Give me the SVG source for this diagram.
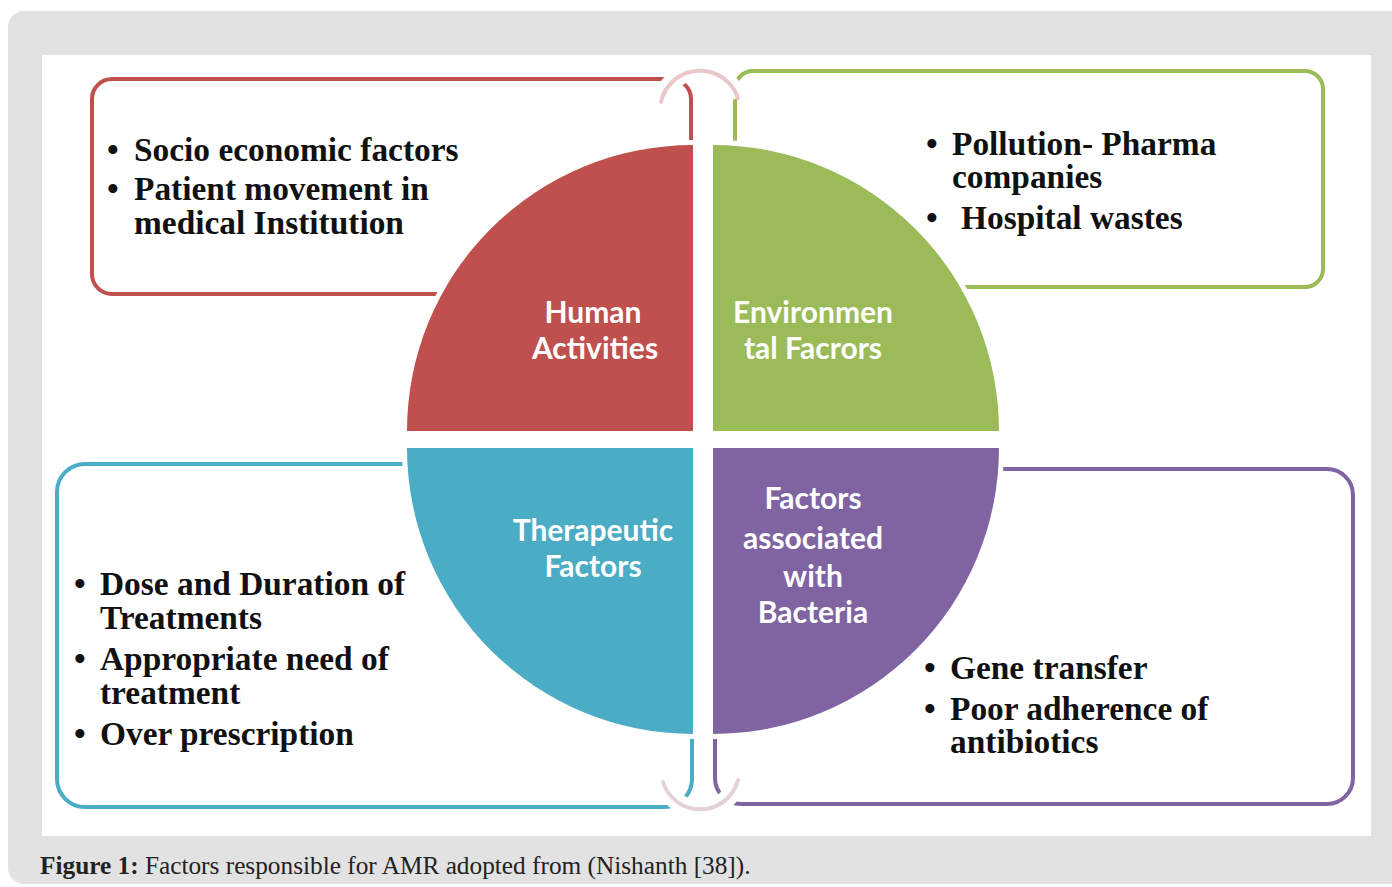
<svg xmlns="http://www.w3.org/2000/svg" width="1392" height="887" viewBox="0 0 1392 887">
  <style>
    .box { fill: none; stroke-width: 4; }
    .quad { stroke: #ffffff; stroke-width: 10; paint-order: stroke; }
    .halo { fill: none; stroke: #ffffff; stroke-width: 18; stroke-linecap: butt; }
    .link { fill: none; stroke-width: 4; stroke-linecap: round; }
    .item { font-family: "Liberation Serif", "Times New Roman", serif; font-weight: bold; font-size: 33.4px; fill: #111111; }
    .label { font-family: Lato, "Open Sans", sans-serif; font-weight: bold; font-size: 30px; fill: #ffffff; text-anchor: middle; }
    .caption { font-family: "Liberation Serif", "Times New Roman", serif; font-size: 25.3px; fill: #222222; }
  </style>

  <!-- page frame -->
  <rect x="8" y="11" width="1400" height="873" rx="16" fill="#e2e2e2"/>
  <rect x="42" y="55" width="1329" height="781" fill="#ffffff"/>

  <!-- text boxes around the circle -->
  <g id="box-human">
    <rect class="box" x="92" y="79" width="599" height="215" rx="20" stroke="#c0504d"/>
  </g>
  <g id="box-environment">
    <rect class="box" x="735" y="71" width="588" height="216" rx="18" stroke="#9bbb59"/>
  </g>
  <g id="box-therapeutic">
    <rect class="box" x="57" y="464" width="635" height="343" rx="28" stroke="#4bacc6"/>
  </g>
  <g id="box-bacteria">
    <rect class="box" x="715" y="469" width="638" height="335" rx="26" stroke="#8064a2"/>
  </g>

  <!-- connecting arcs between the upper and lower box pairs -->
  <g id="connectors">
    <path class="halo" d="M661,102 A40,40 0 0 1 738,98"/>
    <path class="halo" d="M663,782 A39,39 0 0 0 738,780"/>
    <path class="link" stroke="#e9c6c9" d="M661,102 A40,40 0 0 1 738,98"/>
    <path class="link" stroke="#e5d2d5" d="M663,782 A39,39 0 0 0 738,780"/>
  </g>

  <!-- circle quadrants -->
  <g id="quad-human">
    <path class="quad" fill="#c0504d" d="M693,431 L407,431 A286,286 0 0 1 693,145 Z"/>
    <text class="label" x="593" y="323">Human</text>
    <text class="label" x="595" y="359">Activities</text>
  </g>
  <g id="quad-environment">
    <path class="quad" fill="#9bbb59" d="M713,431 L713,145 A286,286 0 0 1 999,431 Z"/>
    <text class="label" x="813" y="323">Environmen</text>
    <text class="label" x="813" y="359">tal Facrors</text>
  </g>
  <g id="quad-therapeutic">
    <path class="quad" fill="#4bacc6" d="M693,448 L693,734 A286,286 0 0 1 407,448 Z"/>
    <text class="label" x="593" y="541">Therapeutic</text>
    <text class="label" x="593" y="577">Factors</text>
  </g>
  <g id="quad-bacteria">
    <path class="quad" fill="#8064a2" d="M713,448 L999,448 A286,286 0 0 1 713,734 Z"/>
    <text class="label" x="813" y="509">Factors</text>
    <text class="label" x="813" y="549">associated</text>
    <text class="label" x="813" y="587">with</text>
    <text class="label" x="813" y="623">Bacteria</text>
  </g>

  <!-- bullet lists -->
  <g id="list-human">
    <text class="item" x="107" y="161">•</text>
    <text class="item" x="134" y="161">Socio economic factors</text>
    <text class="item" x="107" y="200">•</text>
    <text class="item" x="134" y="200">Patient movement in</text>
    <text class="item" x="134" y="234">medical Institution</text>
  </g>
  <g id="list-environment">
    <text class="item" x="926" y="155">•</text>
    <text class="item" x="952" y="155">Pollution- Pharma</text>
    <text class="item" x="952" y="188">companies</text>
    <text class="item" x="926" y="229">•</text>
    <text class="item" x="961" y="229">Hospital wastes</text>
  </g>
  <g id="list-therapeutic">
    <text class="item" x="74" y="595">•</text>
    <text class="item" x="100" y="595">Dose and Duration of</text>
    <text class="item" x="100" y="629">Treatments</text>
    <text class="item" x="74" y="670">•</text>
    <text class="item" x="100" y="670">Appropriate need of</text>
    <text class="item" x="100" y="704">treatment</text>
    <text class="item" x="74" y="745">•</text>
    <text class="item" x="100" y="745">Over prescription</text>
  </g>
  <g id="list-bacteria">
    <text class="item" x="924" y="679">•</text>
    <text class="item" x="950" y="679">Gene transfer</text>
    <text class="item" x="924" y="720">•</text>
    <text class="item" x="950" y="720">Poor adherence of</text>
    <text class="item" x="950" y="753">antibiotics</text>
  </g>

  <!-- caption -->
  <text class="caption" x="40" y="874"><tspan font-weight="bold">Figure 1:</tspan> Factors responsible for AMR adopted from (Nishanth [38]).</text>
</svg>
